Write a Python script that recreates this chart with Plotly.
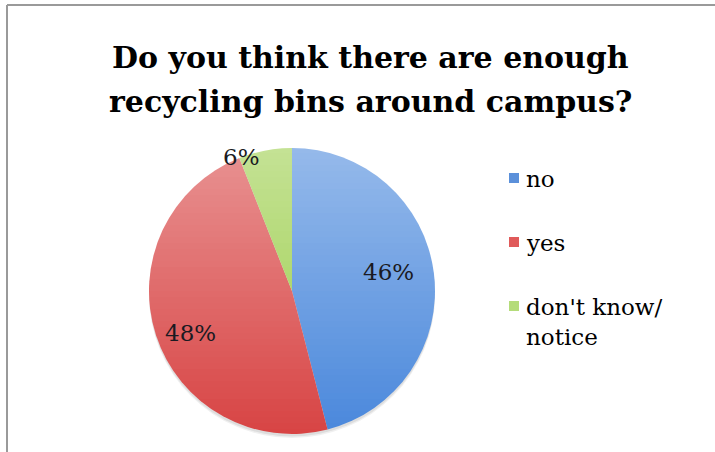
import plotly.graph_objects as go
import math

# Survey responses
labels = ["no", "yes", "don't know/ notice"]
values = [46, 48, 6]

# Slice colours (darker base tone; lighter toward the top via a white wash)
slice_colors = ["#4A88DC", "#D84444", "#9ACD48"]
legend_colors = ["#5B90DA", "#E05A5A", "#B4DC7A"]

title_lines = ["Do you think there are enough", "recycling bins around campus?"]

W, H = 715, 452


def px(x):
    return x / W


def py(y):
    return 1 - y / H


# pie geometry in pixels
cx, cy, R = 292, 291, 143

fig = go.Figure(
    go.Pie(
        labels=labels,
        values=values,
        sort=False,
        direction="clockwise",
        rotation=0,
        marker=dict(colors=slice_colors, line=dict(width=0)),
        textinfo="none",
        hoverinfo="label+percent",
        showlegend=False,
        domain=dict(x=[px(cx - R), px(cx + R)], y=[py(cy + R), py(cy - R)]),
    )
)

shapes = []

# soft drop shadow under the pie
for off, a in [(4, 0.06), (2.5, 0.08)]:
    shapes.append(dict(
        type="circle", xref="paper", yref="paper", layer="below",
        x0=px(cx - R), x1=px(cx + R),
        y0=py(cy + R + off), y1=py(cy - R + off),
        fillcolor=f"rgba(0,0,0,{a})", line=dict(width=0),
    ))

# vertical light-to-dark shading over the pie
n_bands = 48
top, bot = cy - R - 1, cy + R + 1
band_h = (bot - top) / n_bands
for i in range(n_bands):
    y0 = top + i * band_h
    y1 = y0 + band_h
    t = (y0 + band_h / 2 - top) / (bot - top)
    a = 0.42 * (1 - t)
    shapes.append(dict(
        type="rect", xref="paper", yref="paper", layer="above",
        x0=px(cx - R - 2), x1=px(cx + R + 2), y0=py(y1), y1=py(y0),
        fillcolor=f"rgba(255,255,255,{a:.4f})", line=dict(width=0),
    ))

# chart frame
frame = "#9A9A9A"
shapes.append(dict(type="line", xref="paper", yref="paper",
                   x0=px(7), x1=1.01, y0=py(5), y1=py(5),
                   line=dict(color=frame, width=2)))
shapes.append(dict(type="line", xref="paper", yref="paper",
                   x0=px(7), x1=px(7), y0=py(5), y1=-0.01,
                   line=dict(color=frame, width=2)))

annotations = []

# title, one annotation per line
for i, line in enumerate(title_lines):
    annotations.append(dict(
        text=f"<b>{line}</b>", xref="paper", yref="paper",
        x=px(370), y=py(38 + 44 * i), xanchor="center", yanchor="top",
        showarrow=False,
        font=dict(family="DejaVu Serif", size=30, color="#000000"),
    ))

# percentage labels, placed along each slice's mid-angle
label_radius = [0.69, 0.77, 1.0]
label_turn = [-4.0, -4.4, -10.0]  # degrees
total = sum(values)
cum = 0
for v, rf, turn in zip(values, label_radius, label_turn):
    mid = (cum + v / 2) / total * 360 + turn
    cum += v
    ang = math.radians(mid)
    lx = cx + rf * R * math.sin(ang)
    ly = cy - rf * R * math.cos(ang)
    annotations.append(dict(
        text=f"{round(100 * v / total)}%", xref="paper", yref="paper",
        x=px(lx), y=py(ly), xanchor="center", yanchor="middle", showarrow=False,
        font=dict(family="DejaVu Serif", size=23, color="#1A1A22"),
    ))

# legend
leg_x, leg_y0, leg_step, sq = 509, 178, 64, 10
for i, (lab, col) in enumerate(zip(labels, legend_colors)):
    yc = leg_y0 + i * leg_step
    shapes.append(dict(
        type="rect", xref="paper", yref="paper", layer="above",
        x0=px(leg_x), x1=px(leg_x + sq), y0=py(yc + sq / 2), y1=py(yc - sq / 2),
        fillcolor=col, line=dict(width=0),
    ))
    annotations.append(dict(
        text=lab.replace("/ ", "/<br>"), xref="paper", yref="paper",
        x=px(leg_x + sq + 5), y=py(yc - 14), xanchor="left", yanchor="top",
        align="left", showarrow=False,
        font=dict(family="DejaVu Serif", size=23, color="#000000"),
    ))

fig.update_layout(
    width=W, height=H, margin=dict(l=0, r=0, t=0, b=0),
    paper_bgcolor="#FFFFFF", plot_bgcolor="#FFFFFF",
    shapes=shapes, annotations=annotations,
)

fig.write_html("out.html")
